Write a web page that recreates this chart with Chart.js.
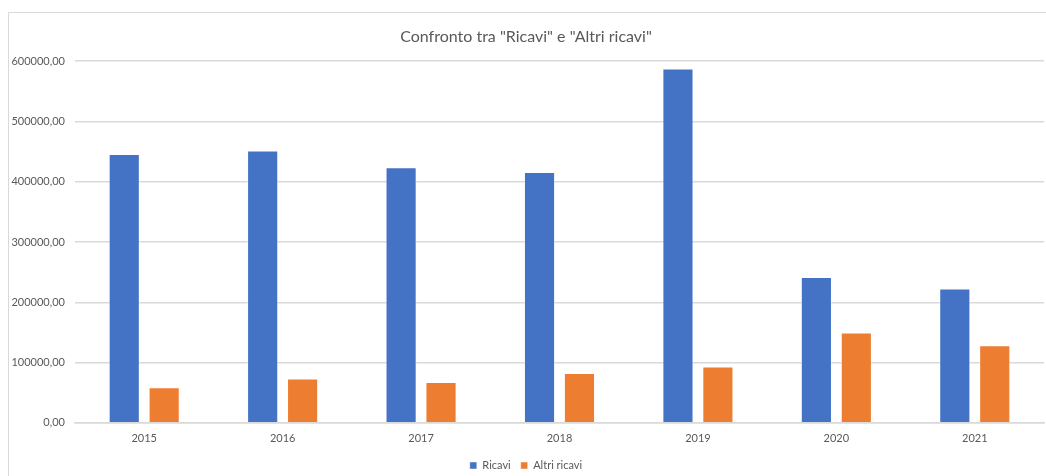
<!DOCTYPE html>
<html>
<head>
<meta charset="utf-8">
<script src="https://cdn.jsdelivr.net/npm/chart.js@4.4.0/dist/chart.umd.min.js"></script>
<style>
    body { margin: 0; background: #fff; }
    canvas { display: block; }
</style>
</head>
<body>
<canvas id="barre" width="1046" height="476"></canvas>
<script>
// dati
const anni = ["2015", "2016", "2017", "2018", "2019", "2020", "2021"];
const ricavi = [446000, 452000, 424000, 416000, 588000, 242000, 223000];
const altriRicavi = [59000, 73500, 67500, 82500, 93500, 150000, 128500];
const yTicks = [0, 100000, 200000, 300000, 400000, 500000, 600000];

const grigio = "#595959";
const griglia = "#d9d9d9";

// cornice grigia in alto e a sinistra
const cornice = {
    id: "cornice",
    beforeDraw(chart) {
        const ctx = chart.ctx;
        ctx.save();
        ctx.strokeStyle = griglia;
        ctx.lineWidth = 1;
        ctx.beginPath();
        ctx.moveTo(8.5, 476);
        ctx.lineTo(8.5, 12.5);
        ctx.lineTo(1046, 12.5);
        ctx.stroke();
        ctx.restore();
    }
};

function cargaGrafico() {
    const config = {
        type: "bar",
        data: {
            labels: anni,
            datasets: [{
                label: "Ricavi",
                backgroundColor: "#4472C4",
                borderColor: "rgba(255,255,255,0.45)",
                borderWidth: 1,
                data: ricavi
            }, {
                label: "Altri ricavi",
                backgroundColor: "#ED7D31",
                borderColor: "rgba(255,255,255,0.45)",
                borderWidth: 1,
                data: altriRicavi
            }]
        },
        options: {
            responsive: false,
            animation: false,
            maintainAspectRatio: false,
            categoryPercentage: 0.577,
            barPercentage: 0.78,
            layout: { padding: { left: 8, right: 2, top: 27, bottom: -5 } },
            scales: {
                x: {
                    afterFit: function (scale) { scale.height += 4; },
                    grid: { display: false },
                    border: { color: griglia, width: 1.5 },
                    ticks: { color: grigio, font: { family: "Lato", size: 11 }, padding: 1 }
                },
                y: {
                    min: 0,
                    max: 600000,
                    afterFit: function (scale) { scale.width = 67; },
                    afterBuildTicks: function (scale) {
                        scale.ticks = yTicks.map(v => ({ value: v }));
                    },
                    grid: { color: griglia, lineWidth: 1.5, drawTicks: false },
                    border: { display: false },
                    ticks: {
                        color: grigio,
                        padding: 10,
                        font: { family: "Lato", size: 11 },
                        callback: v => v.toFixed(2).replace(".", ",")
                    }
                }
            },
            plugins: {
                title: {
                    display: true,
                    text: 'Confronto tra "Ricavi" e "Altri ricavi"',
                    color: grigio,
                    font: { family: "Lato", size: 16, weight: "normal" },
                    padding: { top: 0, bottom: 15 }
                },
                legend: {
                    position: "bottom",
                    labels: {
                        color: grigio,
                        boxWidth: 7,
                        boxHeight: 7,
                        padding: 10,
                        font: { family: "Lato", size: 11 }
                    }
                },
                tooltip: { enabled: false }
            }
        },
        plugins: [cornice]
    };

    const ctx = document.getElementById("barre").getContext("2d");
    new Chart(ctx, config);
}

window.onload = cargaGrafico;
</script>
</body>
</html>
